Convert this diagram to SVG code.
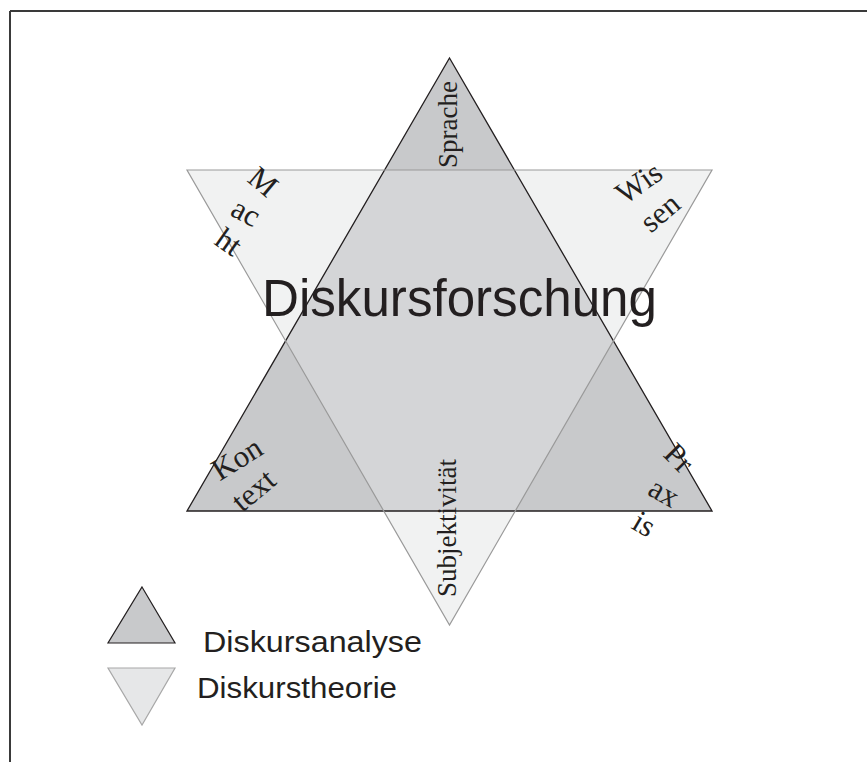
<svg xmlns="http://www.w3.org/2000/svg" width="867" height="762" viewBox="0 0 867 762">
<style>
.lbl{font-family:"Liberation Serif","Times New Roman",serif;font-size:27px;fill:#231f20}
.cl{font-family:"Liberation Serif","Times New Roman",serif;font-size:31px;fill:#231f20;text-anchor:middle}
.big{font-family:"Liberation Sans",Arial,sans-serif;fill:#231f20}
.up{fill:#c8c9cb;stroke:none}
.dn{fill:#f1f2f2;stroke:none}
.ov{fill:#d4d5d7;stroke:none}
.upS{fill:none;stroke:#231f20;stroke-width:1.3}
.dnS{fill:none;stroke:#9a9a9a;stroke-width:1.2}
</style>
<rect x="0" y="0" width="867" height="762" fill="#ffffff"/>
<g id="frame">
<line x1="10" y1="11" x2="867" y2="11" stroke="#3a3a3a" stroke-width="2"/>
<line x1="10" y1="11" x2="10" y2="762" stroke="#3a3a3a" stroke-width="2"/>
</g>
<g id="star">
<polygon class="dn" points="187,170 712,170 449.5,625"/>
<polygon class="up" points="449.5,58 712,511 187,511"/>
<polygon class="ov" points="384.6,170 514.4,170 613.4,340.9 515.3,511 383.7,511 285.6,340.9"/>
<polygon class="upS" points="449.5,58 712,511 187,511"/>
<polygon class="dnS" points="187,170 712,170 449.5,625"/>
</g>
<g id="title">
<text class="big" x="262" y="316" font-size="51" textLength="395" lengthAdjust="spacingAndGlyphs">Diskursforschung</text>
</g>
<g id="sprache">
<text class="lbl" transform="translate(457,168) rotate(-90)">Sprache</text>
</g>
<g id="subjektivitaet">
<text class="lbl" transform="translate(456,597) rotate(-90)">Subjektivität</text>
</g>
<g id="macht">
<text class="cl" transform="translate(263,182) rotate(40)" y="10">M</text>
<text class="cl" transform="translate(244,216) rotate(28)" y="6">ac</text>
<text class="cl" transform="translate(228,243) rotate(35)" y="9">ht</text>
</g>
<g id="wissen">
<text class="cl" transform="translate(639,183) rotate(-35)" y="10">Wis</text>
<text class="cl" transform="translate(662,215) rotate(-40)" y="7">sen</text>
</g>
<g id="kontext">
<text class="cl" transform="translate(237,459) rotate(-32)" y="10">Kon</text>
<text class="cl" transform="translate(255,492) rotate(-40)" y="8">text</text>
</g>
<g id="praxis">
<text class="cl" transform="translate(678,459) rotate(45)" y="9">Pr</text>
<text class="cl" transform="translate(662,496) rotate(30)" y="6">ax</text>
<text class="cl" transform="translate(643,526) rotate(30)" y="8">is</text>
</g>
<g id="legend-analyse">
<polygon points="142,587 175,643 108,643" fill="#c8c9cb" stroke="#231f20" stroke-width="1.2"/>
<text class="big" x="203" y="652" font-size="30" textLength="219" lengthAdjust="spacingAndGlyphs">Diskursanalyse</text>
</g>
<g id="legend-theorie">
<polygon points="108,668 175,668 142,725" fill="#e6e7e8" stroke="#a8a8a8" stroke-width="1.2"/>
<text class="big" x="197" y="698" font-size="30" textLength="200" lengthAdjust="spacingAndGlyphs">Diskurstheorie</text>
</g>
</svg>
